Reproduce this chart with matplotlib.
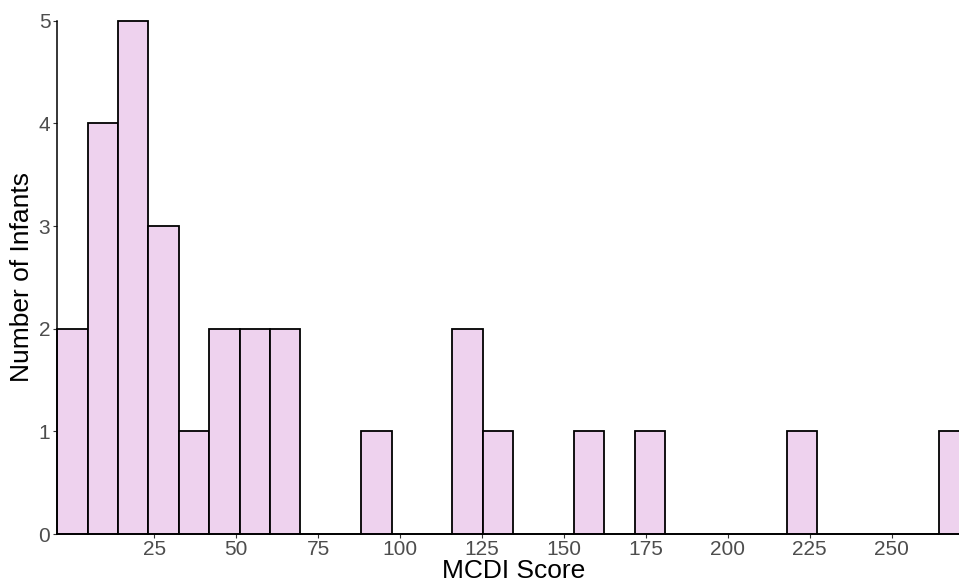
import numpy as np
import matplotlib.pyplot as plt

# MCDI score histogram: 30 bins, first/last bin centred on the min/max score
score_min, score_max = 0, 269
n_bins = 30
counts = [2, 4, 5, 3, 1, 2, 2, 2, 0, 0,
          1, 0, 0, 2, 1, 0, 0, 1, 0, 1,
          0, 0, 0, 0, 1, 0, 0, 0, 0, 1]
x_ticks = [25, 50, 75, 100, 125, 150, 175, 200, 225, 250]
y_ticks = [0, 1, 2, 3, 4, 5]

width = (score_max - score_min) / (n_bins - 1)
centers = score_min + width * np.arange(n_bins)

plt.rcParams['font.family'] = ['Liberation Sans', 'DejaVu Sans']

fig = plt.figure(figsize=(9.59, 5.84), dpi=100)
# panel runs a little past the right edge of the figure
ax = fig.add_axes([57.3 / 959, 50 / 584, 911.7 / 959, 513.3 / 584])

ax.bar(centers, counts, width=width, color='#EED2EE', edgecolor='black',
       linewidth=1.3, align='center', clip_on=False, zorder=2)

ax.set_xlim(score_min - width / 2, score_max + width / 2)
ax.set_ylim(0, 5)
ax.set_xticks(x_ticks)
ax.set_yticks(y_ticks)

for side in ['top', 'right']:
    ax.spines[side].set_visible(False)
for side in ['left', 'bottom']:
    ax.spines[side].set_linewidth(1.1)
    ax.spines[side].set_color('black')
    ax.spines[side].set_zorder(3)

ax.tick_params(axis='both', direction='out', length=3, width=0.8,
               color='#333333', labelsize=15, labelcolor='#4D4D4D')
ax.tick_params(axis='x', pad=1.5)
ax.tick_params(axis='y', pad=2)

ax.set_xlabel('MCDI Score', fontsize=19, labelpad=0)
ax.set_ylabel('Number of Infants', fontsize=19, labelpad=3)

plt.savefig('out.png', dpi=100)
